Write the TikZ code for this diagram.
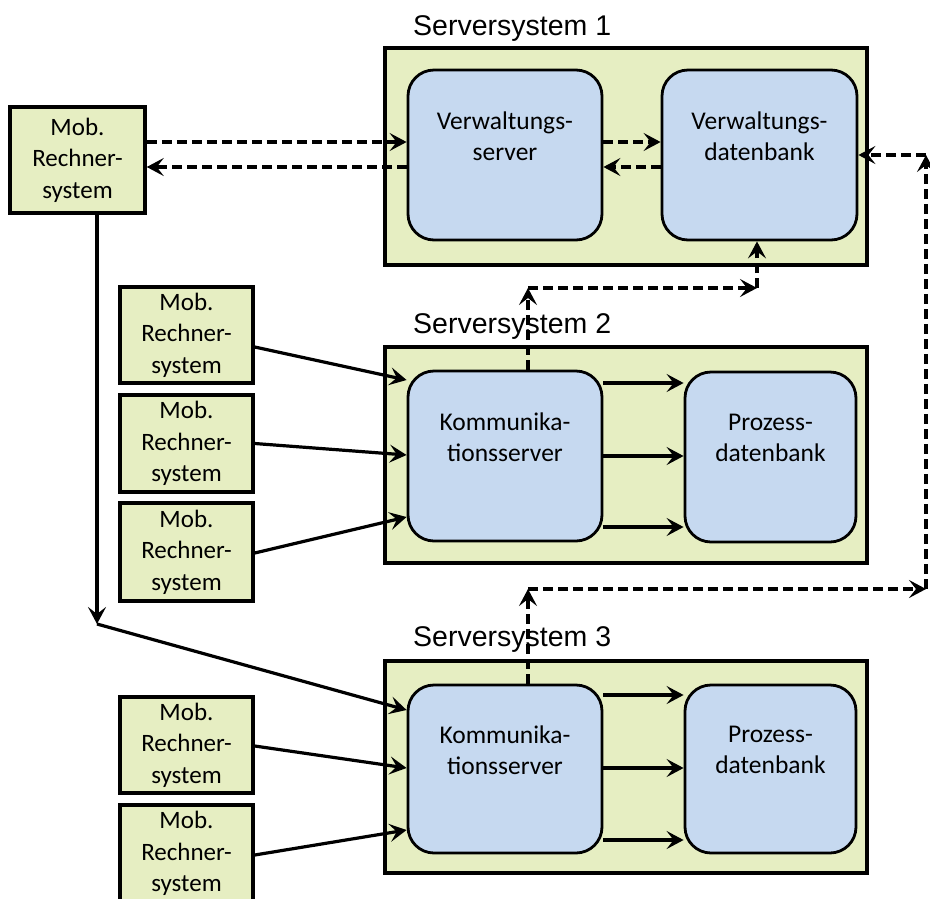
\documentclass[tikz,border=0pt]{standalone}
\usepackage{fontspec}
\setmainfont{Carlito}
\newfontfamily\labelfont{Liberation Sans}
\usetikzlibrary{arrows.meta}
\definecolor{sysgreen}{RGB}{230,238,194}
\definecolor{boxblue}{RGB}{198,217,240}

\tikzset{
  system/.style={draw=black, line width=3.5pt, fill=sysgreen},
  srv/.style={draw=black, line width=2.8pt, fill=boxblue, rounded corners=26pt},
  mob/.style={draw=black, line width=3.5pt, fill=sysgreen, align=center,
              font=\fontsize{25}{31.5}\selectfont, inner sep=0pt},
  srvtext/.style={align=center, font=\fontsize{25.5}{31.5}\selectfont, inner sep=0pt},
  syslabel/.style={anchor=base west, font=\labelfont\fontsize{28.5}{34}\selectfont, inner sep=0pt},
  flow/.style={line width=3.2pt, -{Stealth[length=17pt,width=18pt,inset=7pt]}},
  dflow/.style={flow, dash pattern=on 10pt off 5pt},
}

\begin{document}
\begin{tikzpicture}[x=1pt,y=-1pt]
  \useasboundingbox (0,0) rectangle (930,898);
  \clip (0,0) rectangle (930,898);

  % server systems
  \node[system, minimum width=482pt, minimum height=217pt] (s1) at (626,156.5) {};
  \node[system, minimum width=482pt, minimum height=216pt] (s2) at (626,455) {};
  \node[system, minimum width=482pt, minimum height=212pt] (s3) at (626,767) {};

  % servers inside the systems
  \node[srv, minimum width=194pt, minimum height=170pt] (vs) at (505,155) {};
  \node[srv, minimum width=195pt, minimum height=170pt] (vd) at (759.5,155) {};
  \node[srv, minimum width=194pt, minimum height=170pt] (k2) at (505,456) {};
  \node[srv, minimum width=171pt, minimum height=170pt] (p2) at (770.5,457) {};
  \node[srv, minimum width=194pt, minimum height=168pt] (k3) at (505,769) {};
  \node[srv, minimum width=171pt, minimum height=168pt] (p3) at (770.5,769) {};

  \node[srvtext] (vst) at (505,136) {Verwaltungs-\\server};
  \node[srvtext] (vdt) at (759.5,136) {Verwaltungs-\\datenbank};
  \node[srvtext] (k2t) at (505,437) {Kommunika-\\tionsserver};
  \node[srvtext] (p2t) at (770.5,438) {Prozess-\\datenbank};
  \node[srvtext] (k3t) at (505,750) {Kommunika-\\tionsserver};
  \node[srvtext] (p3t) at (770.5,750) {Prozess-\\datenbank};

  % mobile clients
  \node[mob, minimum width=135pt, minimum height=106pt] (m0) at (77.5,160) {Mob.\\Rechner-\\system};
  \node[mob, minimum width=133pt, minimum height=96pt] (m1) at (186.5,335) {Mob.\\Rechner-\\system};
  \node[mob, minimum width=133pt, minimum height=97pt] (m2) at (186.5,443.5) {Mob.\\Rechner-\\system};
  \node[mob, minimum width=133pt, minimum height=98pt] (m3) at (186.5,552) {Mob.\\Rechner-\\system};
  \node[mob, minimum width=133pt, minimum height=96pt] (m4) at (186.5,745) {Mob.\\Rechner-\\system};
  \node[mob, minimum width=133pt, minimum height=97pt] (m5) at (186.5,853.5) {Mob.\\Rechner-\\system};

  % system titles
  \node[syslabel] (l1) at (413,35) {Serversystem 1};
  \node[syslabel] (l2) at (413,333) {Serversystem 2};
  \node[syslabel] (l3) at (413,646) {Serversystem 3};

  % management traffic
  \draw[dflow] ([yshift=18pt]m0.east) -- ([yshift=18pt]m0.east -| vs.west);
  \draw[dflow] ([yshift=-12pt]vs.west) -- ([yshift=-12pt]vs.west -| m0.east);
  \draw[dflow] ([yshift=13pt]vs.east) -- ([yshift=13pt]vs.east -| vd.west);
  \draw[dflow] ([yshift=-12pt]vd.west) -- ([yshift=-12pt]vd.west -| vs.east);

  % client of system 1 also served by system 3
  \coordinate (bend) at (97,624);
  \draw[flow] (m0.south -| bend) -- (bend);
  \draw[flow] (bend) -- ([yshift=59pt]k3.west);

  % clients to communication servers
  \draw[flow] ([yshift=-12pt]m1.east) -- ([yshift=76pt]k2.west);
  \draw[flow] (m2.east) -- ([yshift=1pt]k2.west);
  \draw[flow] ([yshift=-1pt]m3.east) -- ([yshift=-61pt]k2.west);
  \draw[flow] ([yshift=-1pt]m4.east) -- ([yshift=1pt]k3.west);
  \draw[flow] ([yshift=-1.5pt]m5.east) -- ([yshift=-61pt]k3.west);

  % communication servers to process databases
  \draw[flow] ([yshift=73pt]k2.east) -- ([yshift=73pt]k2.east -| p2.west);
  \draw[flow] (k2.east) -- (k2.east -| p2.west);
  \draw[flow] ([yshift=-71pt]k2.east) -- ([yshift=-71pt]k2.east -| p2.west);
  \draw[flow] ([yshift=74pt]k3.east) -- ([yshift=74pt]k3.east -| p3.west);
  \draw[flow] ([yshift=1pt]k3.east) -- ([yshift=1pt]k3.east -| p3.west);
  \draw[flow] ([yshift=-71pt]k3.east) -- ([yshift=-71pt]k3.east -| p3.west);

  % communication servers report to the management database
  \coordinate (c1) at (528,288);
  \coordinate (c2) at (757,288);
  \draw[dflow] (k2.north -| c1) -- (c1);
  \draw[dflow] (c1) -- (c2);
  \draw[dflow] (c2) -- (vd.south -| c2);

  \coordinate (c3) at (528,589);
  \coordinate (c4) at (926,589);
  \coordinate (c5) at (926,155);
  \draw[dflow] (k3.north -| c3) -- (c3);
  \draw[dflow] (c3) -- (c4);
  \draw[dflow] (c4) -- (c5);
  \draw[dflow] (c5) -- (vd.east);
\end{tikzpicture}
\end{document}
